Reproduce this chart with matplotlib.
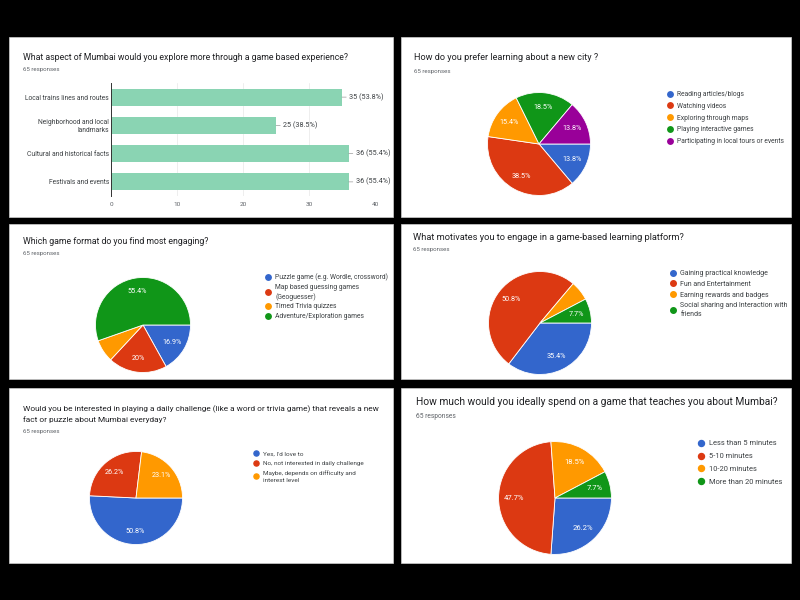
import matplotlib
matplotlib.use("Agg")
import matplotlib.pyplot as plt
import numpy as np
from matplotlib.patches import Rectangle
from matplotlib.lines import Line2D

plt.rcParams['font.family'] = ['Roboto', 'DejaVu Sans']

# ---------------- data ----------------
total_responses = "65 responses"

q1_title = "What aspect of Mumbai would you explore more through a game based experience?"
q1_categories = ["Local trains lines and routes", "Neighborhood and local\nlandmarks",
                 "Cultural and historical facts", "Festivals and events"]
q1_counts = [35, 25, 36, 36]
q1_pcts = ["53.8%", "38.5%", "55.4%", "55.4%"]
q1_ticks = [0, 10, 20, 30, 40]

q2_title = "How do you prefer learning about a new city ?"
q2_labels = ["Reading articles/blogs", "Watching videos", "Exploring through maps",
             "Playing interactive games", "Participating in local tours or events"]
q2_counts = [9, 25, 10, 12, 9]
q2_pct_text = ["13.8%", "38.5%", "15.4%", "18.5%", "13.8%"]

q3_title = "Which game format do you find most engaging?"
q3_labels = ["Puzzle game (e.g. Wordle, crossword)", "Map based guessing games\n(Geoguesser)",
             "Timed Trivia quizzes", "Adventure/Exploration games"]
q3_counts = [11, 13, 5, 36]
q3_pct_text = ["16.9%", "20%", "", "55.4%"]

q4_title = "What motivates you to engage in a game-based learning platform?"
q4_labels = ["Gaining practical knowledge", "Fun and Entertainment", "Earning rewards and badges",
             "Social sharing and Interaction with\nfriends"]
q4_counts = [23, 33, 4, 5]
q4_pct_text = ["35.4%", "50.8%", "", "7.7%"]

q5_title = ("Would you be interested in playing a daily challenge (like a word or trivia game) that reveals a new\n"
            "fact or puzzle about Mumbai everyday?")
q5_labels = ["Yes, I'd love to", "No, not interested in daily challenge",
             "Maybe, depends on difficulty and\ninterest level"]
q5_counts = [33, 17, 15]
q5_pct_text = ["50.8%", "26.2%", "23.1%"]

q6_title = "How much would you ideally spend on a game that teaches you about Mumbai?"
q6_labels = ["Less than 5 minutes", "5-10 minutes", "10-20 minutes", "More than 20 minutes"]
q6_counts = [17, 31, 12, 5]
q6_pct_text = ["26.2%", "47.7%", "18.5%", "7.7%"]

gcolors = ["#3366CC", "#DC3912", "#FF9900", "#109618", "#990099"]
bar_color = "#8AD4B3"

# ---------------- layout helpers ----------------
W, H = 800, 600
fig = plt.figure(figsize=(8, 6), dpi=100, facecolor="black")


def fx(x):
    return x / W


def fy(y):
    return 1 - y / H


def card(x0, y0, x1, y1):
    fig.patches.append(Rectangle((fx(x0), fy(y1)), (x1 - x0) / W, (y1 - y0) / H,
                                 transform=fig.transFigure, facecolor="white",
                                 edgecolor="#d0d0d0", linewidth=0.5, zorder=-5))


def header(x, y_title, y_resp, title, size=6.2, rsize=4.4, linespacing=1.5):
    fig.text(fx(x), fy(y_title), title, fontsize=size, color="#202124",
             ha="left", va="center", linespacing=linespacing)
    fig.text(fx(x), fy(y_resp), total_responses, fontsize=rsize, color="#5f6368",
             ha="left", va="center")


def pie_panel(cx, cy, r, counts, pct_text, labels, leg_x, leg_y, leg_size=4.9,
              leg_spacing=0.75, pct_size=5.2, pctdist=0.72, leg_linespacing=1.35):
    ax = fig.add_axes([fx(cx - r), fy(cy + r), 2 * r / W, 2 * r / H])
    ax.pie(counts, colors=gcolors[:len(counts)], startangle=0, counterclock=False,
           wedgeprops=dict(edgecolor="white", linewidth=0.6))
    tot = sum(counts)
    start = 0.0
    for c, t in zip(counts, pct_text):
        ang = np.deg2rad(-(start + c / tot * 360 / 2))
        start += c / tot * 360
        if t:
            ax.text(pctdist * np.cos(ang), pctdist * np.sin(ang), t, color="white",
                    fontsize=pct_size, ha="center", va="center")
    ax.set_xlim(-1.01, 1.01)
    ax.set_ylim(-1.01, 1.01)
    ax.set_aspect("equal")
    ax.axis("off")
    handles = [Line2D([], [], marker="o", linestyle="none", markersize=leg_size * 0.8,
                      markerfacecolor=col, markeredgecolor=col)
               for col in gcolors[:len(counts)]]
    leg = fig.legend(handles, labels, loc="upper left", bbox_to_anchor=(fx(leg_x), fy(leg_y)),
                     bbox_transform=fig.transFigure, frameon=False, fontsize=leg_size,
                     handlelength=0.8, handletextpad=0.7, labelspacing=leg_spacing,
                     borderpad=0, borderaxespad=0, labelcolor="#3c4043")
    for t in leg.get_texts():
        t.set_linespacing(leg_linespacing)


# ---------------- cards ----------------
card(9, 37, 393, 217)
card(401, 37, 791, 217)
card(9, 224, 393, 379)
card(401, 224, 791, 379)
card(9, 388, 393, 563)
card(401, 388, 791, 563)

# ---------------- panel 1: bar chart ----------------
header(23, 57, 69, q1_title, size=6.35)
ax1 = fig.add_axes([fx(111), fy(196), (375 - 111) / W, (196 - 83) / H])
ypos = list(range(len(q1_categories)))
ax1.barh(ypos, q1_counts, height=0.6, color=bar_color, zorder=2)
ax1.set_xlim(0, 40)
ax1.set_ylim(len(q1_categories) - 0.5, -0.5)
ax1.set_xticks(q1_ticks)
ax1.set_xticklabels([str(t) for t in q1_ticks], fontsize=4.6, color="#5f6368")
ax1.set_yticks(ypos)
ax1.set_yticklabels(q1_categories, fontsize=4.85, color="#3c4043")
ax1.tick_params(length=0, pad=4)
ax1.tick_params(axis="y", pad=1.5)
for s in ["top", "right", "bottom"]:
    ax1.spines[s].set_visible(False)
ax1.spines["left"].set_color("#333333")
ax1.spines["left"].set_linewidth(0.7)
ax1.spines["left"].set_zorder(3)
ax1.grid(axis="x", color="#e8e8e8", linewidth=0.5, zorder=0)
ax1.set_axisbelow(True)
for i, (v, p) in enumerate(zip(q1_counts, q1_pcts)):
    ax1.annotate(f"{v} ({p})", xy=(v, i), xytext=(7, 0), textcoords="offset pixels",
                 fontsize=5.2, color="#3c4043", ha="left", va="center",
                 arrowprops=dict(arrowstyle="-", color="#9a9a9a", lw=0.5,
                                 shrinkA=0, shrinkB=0))

# ---------------- panel 2 ----------------
header(414, 58, 71, q2_title, size=6.6)
pie_panel(539, 144, 52, q2_counts, q2_pct_text, q2_labels, 667, 91, leg_spacing=0.7)

# ---------------- panel 3 ----------------
header(23, 242, 253, q3_title, size=6.35)
pie_panel(143, 325, 48, q3_counts, q3_pct_text, q3_labels, 265, 273, leg_spacing=0.4)

# ---------------- panel 4 ----------------
header(413, 237, 249, q4_title, size=6.7)
pie_panel(540, 323, 52, q4_counts, q4_pct_text, q4_labels, 670, 270, leg_size=5.0,
          leg_spacing=0.55)

# ---------------- panel 5 ----------------
header(23, 414, 432, q5_title, size=5.95, linespacing=1.45)
pie_panel(136, 498, 47, q5_counts, q5_pct_text, q5_labels, 253, 451, leg_size=4.6,
          leg_spacing=0.65, leg_linespacing=1.5)

# ---------------- panel 6 ----------------
header(416, 402, 417, q6_title, size=7.4, rsize=4.8)
pie_panel(555, 498, 57, q6_counts, q6_pct_text, q6_labels, 698, 440, leg_size=5.4,
          leg_spacing=0.75, pct_size=5.5)

fig.savefig("out.png", dpi=100, facecolor="black")
